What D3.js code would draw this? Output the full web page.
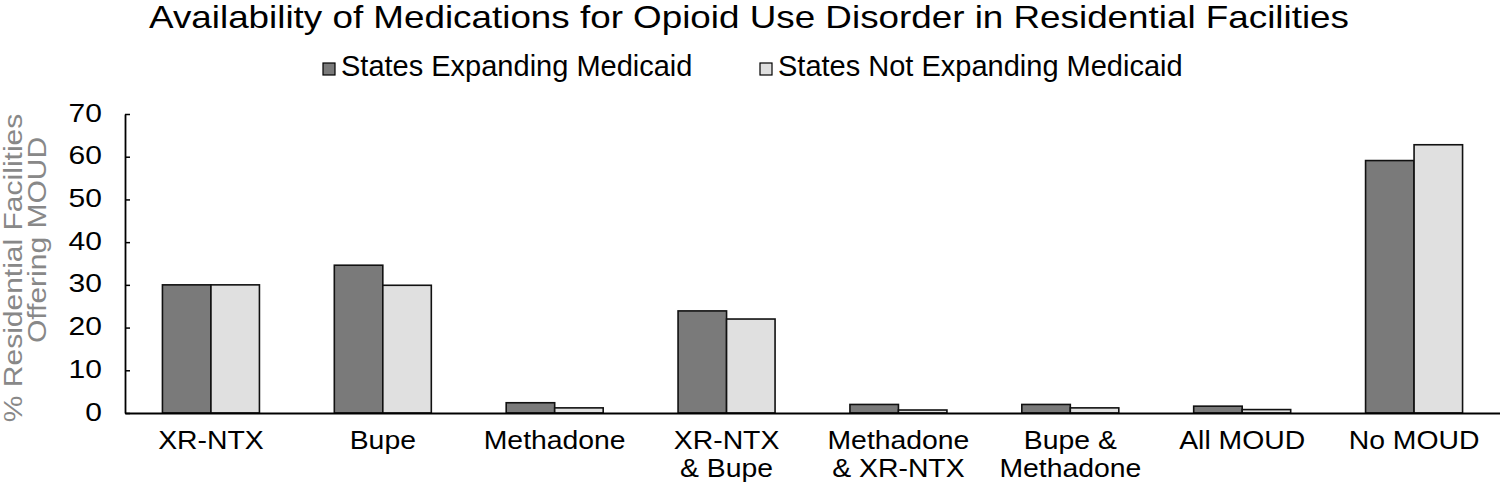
<!DOCTYPE html>
<html><head><meta charset="utf-8">
<script src="https://cdn.jsdelivr.net/npm/d3@7"></script>
<style>body{margin:0;background:#fff}svg{display:block;font-family:"Liberation Sans",Arial,sans-serif}</style>
</head><body><svg id="c" width="1500" height="486"></svg>
<script>
const categories = [["XR-NTX"],["Bupe"],["Methadone"],["XR-NTX","& Bupe"],["Methadone","& XR-NTX"],["Bupe &","Methadone"],["All MOUD"],["No MOUD"]];
const seriesNames = ["States Expanding Medicaid","States Not Expanding Medicaid"];
const expanding = [30, 34.6, 2.4, 23.9, 2.0, 2.0, 1.6, 59.1];
const notExpanding = [30, 29.9, 1.2, 22.0, 0.7, 1.2, 0.8, 62.8];
const yTicks = [0,10,20,30,40,50,60,70];
const yTitleLines = ["% Residential Facilities","Offering MOUD"];
const titleText = "Availability of Medications for Opioid Use Disorder in Residential Facilities";
const colors = ["#7a7a7a","#e0e0e0"];

const svg = d3.select("#c");
const mLeft = 125, mRight = 1500, mTop = 114, mBottom = 413;
const keys = categories.map((c,i)=>"c"+i);
const x = d3.scaleBand().domain(keys).range([mLeft,mRight]).paddingInner(0).paddingOuter(0);
const xs = d3.scaleBand().domain([0,1]).range([0,x.bandwidth()]).paddingInner(0).paddingOuter(0.772);
const y = d3.scaleLinear().domain([0,70]).range([mBottom,mTop]);

// widen glyphs horizontally by factor k (reference font is a wide Helvetica)
function widen(sel, k){
  sel.each(function(){
    const L = this.getComputedTextLength();
    d3.select(this).attr("textLength", L*k).attr("lengthAdjust","spacingAndGlyphs");
  });
}

// title
svg.append("text").attr("x",749).attr("y",28).attr("text-anchor","middle")
  .attr("font-size",32).text(titleText).call(widen,1.15);

// legend
const legX = [323, 760];
seriesNames.forEach((n,i)=>{
  svg.append("rect").attr("x",legX[i]).attr("y",63).attr("width",12).attr("height",12)
    .attr("fill",colors[i]).attr("stroke","#000").attr("stroke-width",1.2);
  svg.append("text").attr("x",legX[i]+18).attr("y",76).attr("font-size",29).text(n);
});

// bars
const data = [expanding, notExpanding];
data.forEach((vals,s)=>{
  svg.append("g").selectAll("rect").data(vals).join("rect")
    .attr("x",(d,i)=>x(keys[i])+xs(s))
    .attr("y",d=>y(d))
    .attr("width",xs.bandwidth())
    .attr("height",d=>y(0)-y(d))
    .attr("fill",colors[s]).attr("stroke","#111").attr("stroke-width",1.6);
});

// y axis
const ya = svg.append("g").attr("transform",`translate(${mLeft},0)`)
  .call(d3.axisLeft(y).tickValues(yTicks).tickSize(-5).tickSizeOuter(0).tickPadding(23));
ya.select(".domain").attr("stroke","#000").attr("stroke-width",1.8);
ya.selectAll(".tick line").attr("stroke","#000").attr("stroke-width",1.5);
ya.selectAll(".tick text").attr("font-size",25).attr("font-family","Liberation Sans, Arial, sans-serif")
  .attr("fill","#000").attr("dy","0.28em").call(widen,1.2);

// x axis
const xa = svg.append("g").attr("transform",`translate(0,${mBottom})`)
  .call(d3.axisBottom(x).tickSize(0).tickSizeOuter(0).tickFormat(""));
xa.select(".domain").attr("stroke","#000").attr("stroke-width",1.8);
xa.selectAll(".tick").each(function(d,i){
  categories[i].forEach((line,j)=>{
    d3.select(this).append("text").attr("fill","#000").attr("font-size",26.5)
      .attr("font-family","Liberation Sans, Arial, sans-serif").attr("text-anchor","middle")
      .attr("x",0).attr("y",36+j*28).text(line).call(widen,1.07);
  });
});

// y title
const yTitleCenters = [268, 240];
const yTitleBase = [22, 46];
yTitleLines.forEach((line,j)=>{
  svg.append("text").attr("transform",`translate(${yTitleBase[j]},${yTitleCenters[j]}) rotate(-90)`)
    .attr("text-anchor","middle").attr("fill","#888").attr("font-size",25).text(line).call(widen,1.2);
});
</script></body></html>
